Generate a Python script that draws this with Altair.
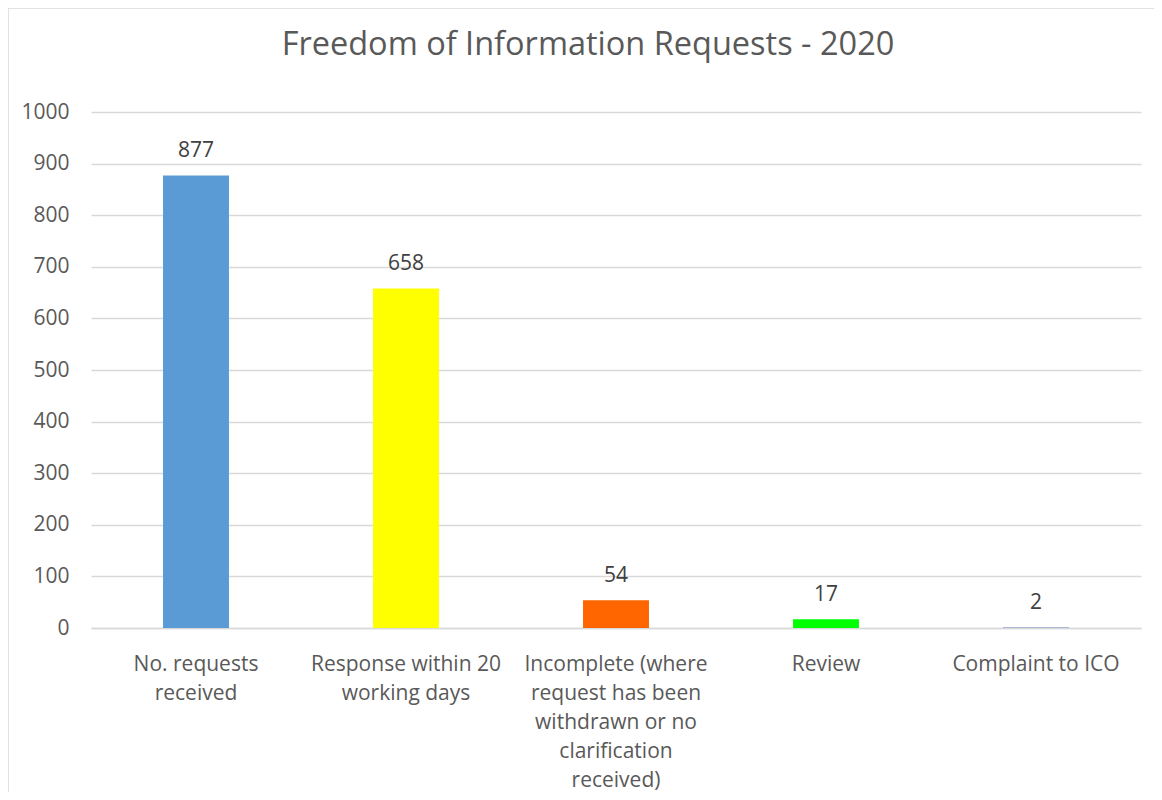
import altair as alt
import pandas as pd

categories = ["No. requests|received", "Response within 20|working days",
              "Incomplete (where|request has been|withdrawn or no|clarification|received)",
              "Review", "Complaint to ICO"]
values = [877, 658, 54, 17, 2]
colors = ["#5B9BD5", "#FFFF00", "#FF6600", "#00FF00", "#A9B9D3"]
title_text = "Freedom of Information Requests - 2020"

df = pd.DataFrame({"cat": categories, "value": values, "color": colors})

FONT = "Open Sans"

x = alt.X("cat:N", sort=categories, title=None,
          scale=alt.Scale(paddingInner=0.686, paddingOuter=0.343),
          axis=alt.Axis(labelExpr="split(datum.label, '|')", labelAngle=0,
                        labelFontSize=21, labelColor="#595959", labelFont=FONT,
                        labelLineHeight=29, labelPadding=25, ticks=False, labelLimit=400,
                        domainColor="#d9d9d9", domainWidth=1.5, labelBaseline="top"))
y = alt.Y("value:Q", title=None,
          scale=alt.Scale(domain=[0, 1000]),
          axis=alt.Axis(values=list(range(0, 1001, 100)), format="d", labelFontSize=21,
                        labelColor="#595959", labelFont=FONT, labelPadding=22, ticks=False,
                        domain=False, gridColor="#d9d9d9", gridWidth=1.5))

base = alt.Chart(df)
bars = base.mark_bar().encode(x=x, y=y, color=alt.Color("color:N", scale=None))
labels = base.mark_text(fontSize=21, color="#404040", font=FONT, baseline="alphabetic", dy=-18).encode(
    x=alt.X("cat:N", sort=categories), y="value:Q", text="value:Q")
border = alt.Chart(pd.DataFrame({"a": [0]})).mark_rect(fill=None, stroke="#d9d9d9", strokeWidth=1.5).encode(
    x=alt.value(-83), x2=alt.value(1100), y=alt.value(-104), y2=alt.value(800))
title = alt.Chart(pd.DataFrame({"t": [title_text]})).mark_text(
    fontSize=32.5, font=FONT, color="#595959", baseline="middle", align="center").encode(
    x=alt.value(497), y=alt.value(-67), text="t:N")

chart = alt.layer(border, bars, labels, title).properties(
    width=1050, height=516,
    autosize=alt.AutoSizeParams(type="none"),
    padding={"left": 83, "top": 104, "right": 13, "bottom": 164},
).configure(background="white").configure_view(strokeWidth=0)

chart.save("out.html", embed_options={"renderer": "svg", "actions": False})
